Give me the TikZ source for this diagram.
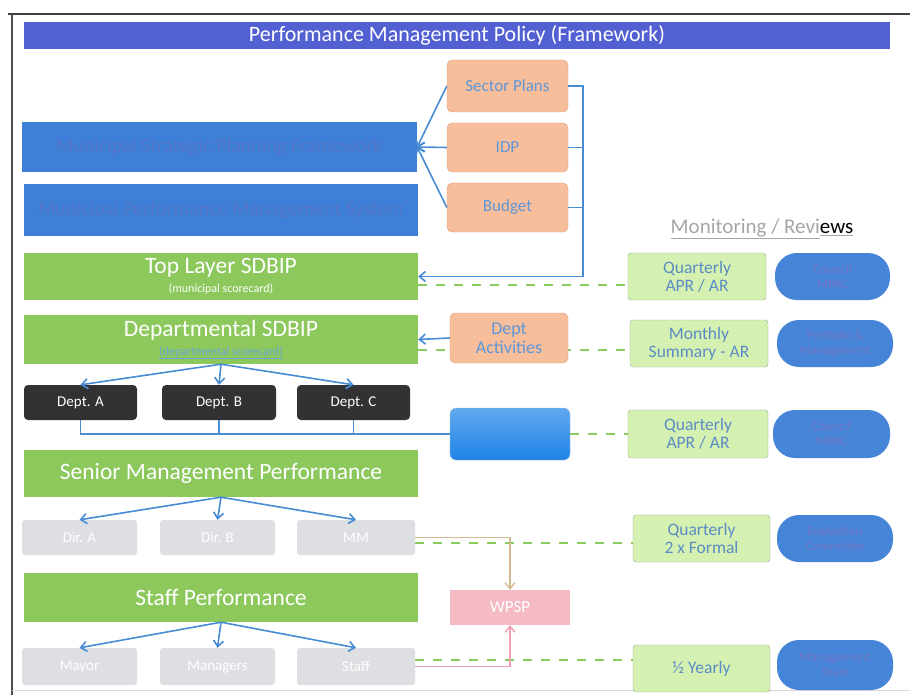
\documentclass[tikz,border=0pt]{standalone}
\usepackage{fontspec}
\setmainfont{Carlito}
\usetikzlibrary{arrows.meta,backgrounds}

\definecolor{titleblue}{RGB}{82,96,210}
\definecolor{barblue}{RGB}{62,128,215}
\definecolor{barink}{RGB}{84,118,202}
\definecolor{leaf}{RGB}{140,200,92}
\definecolor{peach}{RGB}{247,190,155}
\definecolor{peachline}{RGB}{225,160,125}
\definecolor{peachink}{RGB}{95,150,215}
\definecolor{darkbox}{RGB}{50,50,52}
\definecolor{greybox}{RGB}{221,223,226}
\definecolor{mint}{RGB}{212,241,178}
\definecolor{mintline}{RGB}{150,170,150}
\definecolor{mintink}{RGB}{92,140,195}
\definecolor{pill}{RGB}{70,132,216}
\definecolor{pillink}{RGB}{112,118,196}
\definecolor{wire}{RGB}{72,140,212}
\definecolor{dashgreen}{RGB}{136,204,96}
\definecolor{tan}{RGB}{212,184,145}
\definecolor{pink}{RGB}{246,186,196}
\definecolor{pinkline}{RGB}{238,160,176}
\definecolor{cyanbox}{RGB}{30,132,232}

\tikzset{
  box/.style={inner sep=0pt, align=center, font=\fontsize{17}{19}\selectfont},
  titlebar/.style={box, fill=titleblue, text=white, font=\fontsize{22}{24}\selectfont},
  bluebar/.style={box, fill=barblue, text=barink, font=\fontsize{20}{22}\selectfont},
  greenbar/.style={box, fill=leaf, text=white, font=\fontsize{23.5}{24}\selectfont},
  peachbox/.style={box, fill=peach, draw=peachline, rounded corners=5pt, text=peachink},
  deptbox/.style={box, fill=darkbox, text=white, rounded corners=4pt, font=\fontsize{15}{17}\selectfont},
  greybar/.style={box, fill=greybox, text=white, rounded corners=3pt, font=\fontsize{15}{17}\selectfont},
  mintbox/.style={box, fill=mint, draw=mintline, rounded corners=3pt, text=mintink, font=\fontsize{17.5}{18}\selectfont},
  pillbox/.style={box, fill=pill, rounded corners=22pt, text=pillink, font=\fontsize{13}{15}\selectfont},
  tip/.style={-{Straight Barb[length=6pt,width=10pt]}},
  wirearrow/.style={draw=wire, line width=1.6pt, tip},
  wireline/.style={draw=wire, line width=1.6pt},
  review/.style={draw=dashgreen, line width=2pt, dash pattern=on 9pt off 9pt},
}

\begin{document}
\begin{tikzpicture}[x=1pt,y=-1pt]
\useasboundingbox (0,0) rectangle (910,695);

% outer frame
\draw[black!75, line width=1.3pt] (8,14) -- (910,14);
\draw[black!70, line width=1.3pt] (12,14) -- (12,695);
\draw[black!15, line width=0.8pt] (12,690) -- (910,690);

% title
\node[titlebar, minimum width=866, minimum height=27] (title) at (457,35.5)
  {Performance Management Policy (Framework)};

% planning inputs
\node[peachbox, minimum width=121, minimum height=52] (sector) at (507.5,86) {Sector Plans};
\node[peachbox, minimum width=121, minimum height=49] (idp) at (507.5,147.5) {IDP};
\node[peachbox, minimum width=121, minimum height=49] (budget) at (507.5,207.5) {Budget};

% strategic layers
\node[bluebar, minimum width=395, minimum height=50] (bar1) at (219.5,147)
  {Municipal Strategic Planning Framework};
\node[bluebar, minimum width=394, minimum height=52] (bar2) at (221,210)
  {Municipal Performance Management System};

% scorecards
\node[greenbar, minimum width=394, minimum height=47] (toplayer) at (221,276.5)
  {Top Layer SDBIP\\[-5pt]{\fontsize{12}{13}\selectfont (municipal scorecard)}};
\node[greenbar, minimum width=394, minimum height=49] (deptsdbip) at (221,339.5)
  {Departmental SDBIP\\[-5pt]{\fontsize{12}{13}\selectfont\color{wire!80!white}\underline{(departmental scorecard)}}};
\node[peachbox, minimum width=118, minimum height=50, font=\fontsize{18}{19}\selectfont] (dact) at (509,338)
  {Dept\\Activities};

% departments
\node[deptbox, minimum width=113, minimum height=35] (depta) at (80.5,402.5) {Dept. A};
\node[deptbox, minimum width=114, minimum height=35] (deptb) at (219,402.5) {Dept. B};
\node[deptbox, minimum width=113, minimum height=35] (deptc) at (353.5,402.5) {Dept. C};
\node[box, minimum width=120, minimum height=52, rounded corners=6pt,
      top color=cyanbox!70!white, bottom color=cyanbox, draw=cyanbox!80!black!40] (hub) at (510,434) {};

% senior management
\node[greenbar, minimum width=394, minimum height=47] (senior) at (221,473.5)
  {Senior Management Performance};
\node[greybar, minimum width=115, minimum height=35] (dira) at (79.5,537.5) {Dir. A};
\node[greybar, minimum width=115, minimum height=35] (dirb) at (217.5,537.5) {Dir. B};
\node[greybar, minimum width=118, minimum height=35] (mm) at (356,537.5) {MM};

% staff
\node[greenbar, minimum width=394, minimum height=49] (staffperf) at (221,597.5)
  {Staff Performance};
\node[greybar, minimum width=115, minimum height=37] (mayor) at (79.5,666.5) {Mayor};
\node[greybar, minimum width=115, minimum height=37] (managers) at (217.5,666.5) {Managers};
\node[greybar, minimum width=118, minimum height=37] (staff) at (356,666.5) {Staff};
\node[box, fill=pink, minimum width=120, minimum height=35, text=white] (wpsp) at (510,607.5) {WPSP};

% monitoring column
\node[box, text=black!35, font=\fontsize{21}{23}\selectfont] (mon) at (762,229)
  {\underline{Monitoring / Revi}\underline{\color{black}ews}};
\node[mintbox, minimum width=138, minimum height=47] (q1) at (697,276.5) {Quarterly\\APR / AR};
\node[mintbox, minimum width=138, minimum height=47] (ms) at (699,343.5) {Monthly\\Summary - AR};
\node[mintbox, minimum width=140, minimum height=48] (q2) at (698,434) {Quarterly\\APR / AR};
\node[mintbox, minimum width=137, minimum height=47] (q3) at (701.5,538.5) {Quarterly\\2 x Formal};
\node[mintbox, minimum width=137, minimum height=47] (half) at (701.5,668.5) {½ Yearly};

\node[pillbox, minimum width=115, minimum height=47] (p1) at (832.5,276.5) {Council\\MPAC};
\node[pillbox, minimum width=116, minimum height=47] (p2) at (835,343.5) {Portfolio \&\\Management};
\node[pillbox, minimum width=117, minimum height=48] (p3) at (831.5,434) {Council\\MPAC};
\node[pillbox, minimum width=116, minimum height=47] (p4) at (835,538.5) {Evaluation\\Committee};
\node[pillbox, minimum width=116, minimum height=50] (p5) at (835,665) {Management\\Team};

% connectors
\draw[wirearrow] (sector.west) -- (bar1.east);
\draw[wirearrow] (idp.west) -- (bar1.east);
\draw[wirearrow] (budget.west) -- (bar1.east);
\coordinate (rail) at (583,86);
\draw[wirearrow] (sector.east) -- (rail) |- (toplayer.east);
\draw[wireline] (idp.east) -- (idp.east -| rail);
\draw[wireline] (budget.east) -- (budget.east -| rail);
\draw[wirearrow] (dact.west) -- (deptsdbip.east);

\draw[wirearrow] (deptsdbip.south) -- (depta.north);
\draw[wirearrow] (deptsdbip.south) -- (deptb.north);
\draw[wirearrow] (deptsdbip.south) -- (deptc.north);
\draw[wireline] (depta.south) |- (hub.west);
\draw[wireline] (deptb.south) -- (deptb.south |- hub.west);
\draw[wireline] (deptc.south) -- (deptc.south |- hub.west);

\draw[wirearrow] (senior.south) -- (dira.north);
\draw[wirearrow] (senior.south) -- (dirb.north);
\draw[wirearrow] (senior.south) -- (mm.north);

\draw[wirearrow] (staffperf.south) -- (mayor.north);
\draw[wirearrow] (staffperf.south) -- (managers.north);
\draw[wirearrow] (staffperf.south) -- (staff.north);

\draw[draw=tan, line width=1.4pt, tip] (mm.east) -| (wpsp.north);
\draw[draw=pinkline, line width=1.4pt, tip] (staff.east) -| (wpsp.south);

% review links run behind the boxes
\begin{scope}[on background layer]
  \fill[white] (0,0) rectangle (910,695);
  \draw[review] ([yshift=-8.5]toplayer.east) -- ([yshift=-8.5]q1.west);
  \draw[review] ([yshift=-10.5]deptsdbip.east) -- ([yshift=-6.5]ms.west);
  \draw[review] (hub.east) -- (q2.west);
  \draw[review] ([yshift=-5.5]mm.east) -- ([yshift=-4.5]q3.west);
  \draw[review] ([yshift=6.5]staff.east) -- ([yshift=8.5]half.west);
\end{scope}
\end{tikzpicture}
\end{document}
